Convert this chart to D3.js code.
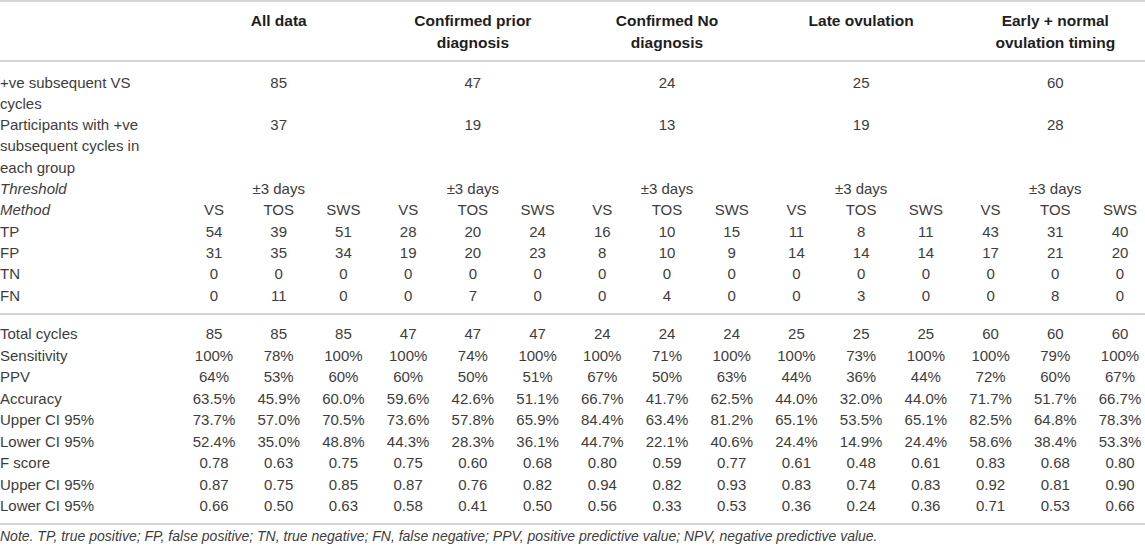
<!DOCTYPE html>
<html>
<head>
<meta charset="utf-8">
<script src="https://cdn.jsdelivr.net/npm/d3@7"></script>
<style>
  html, body { margin: 0; padding: 0; background: #fff; }
  svg { display: block; }
</style>
</head>
<body>
<svg id="table" width="1145" height="550"></svg>
<script>
// Table data
const groups = ["All data", "Confirmed prior diagnosis", "Confirmed No diagnosis", "Late ovulation", "Early + normal ovulation timing"];
const groupLines = [["All data"], ["Confirmed prior", "diagnosis"], ["Confirmed No", "diagnosis"], ["Late ovulation"], ["Early + normal", "ovulation timing"]];
const methods = ["VS", "TOS", "SWS"];
const threshold = "±3 days";

const posCycles = [85, 47, 24, 25, 60];
const participants = [37, 19, 13, 19, 28];

const tp = [54, 39, 51, 28, 20, 24, 16, 10, 15, 11, 8, 11, 43, 31, 40];
const fp = [31, 35, 34, 19, 20, 23, 8, 10, 9, 14, 14, 14, 17, 21, 20];
const tn = [0, 0, 0, 0, 0, 0, 0, 0, 0, 0, 0, 0, 0, 0, 0];
const fn = [0, 11, 0, 0, 7, 0, 0, 4, 0, 0, 3, 0, 0, 8, 0];

const totalCycles = [85, 85, 85, 47, 47, 47, 24, 24, 24, 25, 25, 25, 60, 60, 60];
const sensitivity = [100, 78, 100, 100, 74, 100, 100, 71, 100, 100, 73, 100, 100, 79, 100];
const ppv = [64, 53, 60, 60, 50, 51, 67, 50, 63, 44, 36, 44, 72, 60, 67];
const accuracy = [63.5, 45.9, 60.0, 59.6, 42.6, 51.1, 66.7, 41.7, 62.5, 44.0, 32.0, 44.0, 71.7, 51.7, 66.7];
const accUpper = [73.7, 57.0, 70.5, 73.6, 57.8, 65.9, 84.4, 63.4, 81.2, 65.1, 53.5, 65.1, 82.5, 64.8, 78.3];
const accLower = [52.4, 35.0, 48.8, 44.3, 28.3, 36.1, 44.7, 22.1, 40.6, 24.4, 14.9, 24.4, 58.6, 38.4, 53.3];
const fScore = [0.78, 0.63, 0.75, 0.75, 0.60, 0.68, 0.80, 0.59, 0.77, 0.61, 0.48, 0.61, 0.83, 0.68, 0.80];
const fUpper = [0.87, 0.75, 0.85, 0.87, 0.76, 0.82, 0.94, 0.82, 0.93, 0.83, 0.74, 0.83, 0.92, 0.81, 0.90];
const fLower = [0.66, 0.50, 0.63, 0.58, 0.41, 0.50, 0.56, 0.33, 0.53, 0.36, 0.24, 0.36, 0.71, 0.53, 0.66];

const note = "Note. TP, true positive; FP, false positive; TN, true negative; FN, false negative; PPV, positive predictive value; NPV, negative predictive value.";

const pct0 = d => d + "%";
const pct1 = d3.format(".1f");
const dec2 = d3.format(".2f");

// rows below the header: label + values per column
const countRows = [
    { label: "TP", values: tp },
    { label: "FP", values: fp },
    { label: "TN", values: tn },
    { label: "FN", values: fn }
];
const statRows = [
    { label: "Total cycles", values: totalCycles.map(String) },
    { label: "Sensitivity", values: sensitivity.map(pct0) },
    { label: "PPV", values: ppv.map(pct0) },
    { label: "Accuracy", values: accuracy.map(d => pct1(d) + "%") },
    { label: "Upper CI 95%", values: accUpper.map(d => pct1(d) + "%") },
    { label: "Lower CI 95%", values: accLower.map(d => pct1(d) + "%") },
    { label: "F score", values: fScore.map(dec2) },
    { label: "Upper CI 95%", values: fUpper.map(dec2) },
    { label: "Lower CI 95%", values: fLower.map(dec2) }
];

const Style = {
    font: "'Liberation Sans', Arial, Helvetica, sans-serif",
    text: "#3d3d3d",
    head: "#1e1e1e",
    rule: "#d4d4d4",
    size: 15
};

const svg = d3.select("#table");

// one column per group x method
const colKeys = d3.cross(groups, methods, (g, m) => g + "|" + m);
const x = d3.scalePoint()
    .domain(colKeys)
    .range([214, 1120]);
const groupX = g => x(g + "|TOS");

// line index -> baseline
const yTop = d3.scaleLinear().domain([0, 10]).range([87.5, 300.5]);  // body rows above the mid rule
const yBottom = d3.scaleLinear().domain([0, 8]).range([339, 511]);   // stats rows

function txt(sel, opts) {
    return sel.append("text")
        .attr("font-family", Style.font)
        .attr("font-size", opts.size || Style.size)
        .attr("fill", opts.fill || Style.text)
        .attr("font-weight", opts.bold ? "bold" : null)
        .attr("font-style", opts.italic ? "italic" : null)
        .attr("text-anchor", opts.anchor || "start")
        .attr("x", opts.x)
        .attr("y", opts.y)
        .text(opts.text);
}

// Rules
[1, 61, 314, 524].forEach(y => {
    svg.append("line")
        .attr("x1", 0).attr("x2", 1145)
        .attr("y1", y).attr("y2", y)
        .attr("stroke", Style.rule)
        .attr("stroke-width", 2);
});

// Header
groupLines.forEach((lines, i) => {
    lines.forEach((line, j) => {
        txt(svg, { x: groupX(groups[i]), y: 26 + j * 22, text: line, bold: true, anchor: "middle", size: 15.5, fill: Style.head });
    });
});

// +ve subsequent VS cycles / participants
const topLabels = [
    { lines: ["+ve subsequent VS", "cycles"], values: posCycles, row: 0 },
    { lines: ["Participants with +ve", "subsequent cycles in", "each group"], values: participants, row: 2 }
];
topLabels.forEach(r => {
    r.lines.forEach((line, j) => txt(svg, { x: 0, y: yTop(r.row + j), text: line }));
    r.values.forEach((v, i) => txt(svg, { x: groupX(groups[i]), y: yTop(r.row), text: v, anchor: "middle" }));
});

// Threshold
txt(svg, { x: 0, y: yTop(5), text: "Threshold", italic: true });
groups.forEach(g => txt(svg, { x: groupX(g), y: yTop(5), text: threshold, anchor: "middle" }));

// Method
txt(svg, { x: 0, y: yTop(6), text: "Method", italic: true });
colKeys.forEach(k => txt(svg, { x: x(k), y: yTop(6), text: k.split("|")[1], anchor: "middle" }));

// TP / FP / TN / FN
countRows.forEach((r, i) => {
    txt(svg, { x: 0, y: yTop(7 + i), text: r.label });
    r.values.forEach((v, c) => txt(svg, { x: x(colKeys[c]), y: yTop(7 + i), text: v, anchor: "middle" }));
});

// Stats block
statRows.forEach((r, i) => {
    txt(svg, { x: 0, y: yBottom(i), text: r.label });
    r.values.forEach((v, c) => txt(svg, { x: x(colKeys[c]), y: yBottom(i), text: v, anchor: "middle" }));
});

// Footnote
txt(svg, { x: 0, y: 541, text: note, italic: true, size: 14 });
</script>
</body>
</html>
